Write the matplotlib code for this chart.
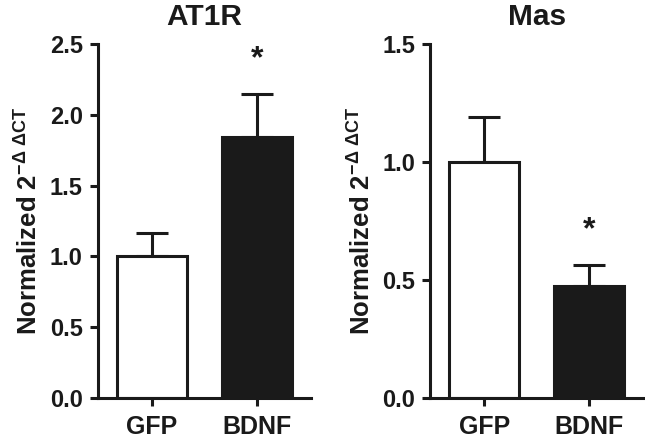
import numpy as np
import matplotlib
matplotlib.use("Agg")
import matplotlib.pyplot as plt

plt.rcParams["font.family"] = ["Liberation Sans", "DejaVu Sans"]
plt.rcParams["font.weight"] = "bold"
plt.rcParams["mathtext.fontset"] = "custom"
plt.rcParams["mathtext.rm"] = "Liberation Sans"
plt.rcParams["mathtext.it"] = "Liberation Sans"
plt.rcParams["mathtext.bf"] = "Liberation Sans:bold"

groups = ["GFP", "BDNF"]

at1r_mean = [1.0, 1.84]
at1r_err = [0.165, 0.305]

mas_mean = [1.0, 0.475]
mas_err = [0.19, 0.09]

panels = [
    ("AT1R", at1r_mean, at1r_err, 2.5, [0.0, 0.5, 1.0, 1.5, 2.0, 2.5]),
    ("Mas", mas_mean, mas_err, 1.5, [0.0, 0.5, 1.0, 1.5]),
]
significant = [False, True]

ink = "#1a1a1a"
lw = 2.2

fig = plt.figure(figsize=(6.45, 4.47), dpi=100)
ax_left = [0.152, 0.667]

for (title, mean, err, ymax, yticks), left in zip(panels, ax_left):
    ax = fig.add_axes([left, 0.1096, 0.330, 0.792])
    x = np.arange(len(groups))
    ax.bar(x, mean, width=0.667, color=["white", ink],
           edgecolor=ink, linewidth=lw, zorder=2)
    ax.errorbar(x, mean, yerr=[np.zeros(len(err)), err], fmt="none",
                ecolor=ink, elinewidth=lw, capsize=11.5, capthick=lw, zorder=1)
    for xi, m, e, sig in zip(x, mean, err, significant):
        if sig:
            ax.annotate("*", (xi, m + e), xytext=(0, 25), textcoords="offset points",
                        ha="center", va="center", fontsize=23, fontweight="bold",
                        color=ink)
    ax.set_xlim(-0.514, 1.514)
    ax.set_ylim(0, ymax)
    ax.set_yticks(yticks)
    ax.set_yticklabels([f"{t:.1f}" for t in yticks])
    ax.set_xticks(x)
    ax.set_xticklabels(groups)
    for s in ["top", "right"]:
        ax.spines[s].set_visible(False)
    for s in ["left", "bottom"]:
        ax.spines[s].set_linewidth(lw)
        ax.spines[s].set_color(ink)
    ax.tick_params(axis="both", length=6, width=lw, color=ink, labelcolor=ink)
    ax.tick_params(axis="y", labelsize=17, pad=5)
    ax.tick_params(axis="x", labelsize=18, pad=6)
    for lab in ax.get_xticklabels() + ax.get_yticklabels():
        lab.set_fontweight("bold")
    ax.set_ylabel(r"Normalized 2$^{\mathrm{-\Delta\ \Delta CT}}$",
                  fontsize=18.5, fontweight="bold", color=ink, labelpad=5)
    ax.set_title(title, fontsize=21.5, fontweight="bold", color=ink, pad=14)

fig.savefig("out.png", dpi=100)
